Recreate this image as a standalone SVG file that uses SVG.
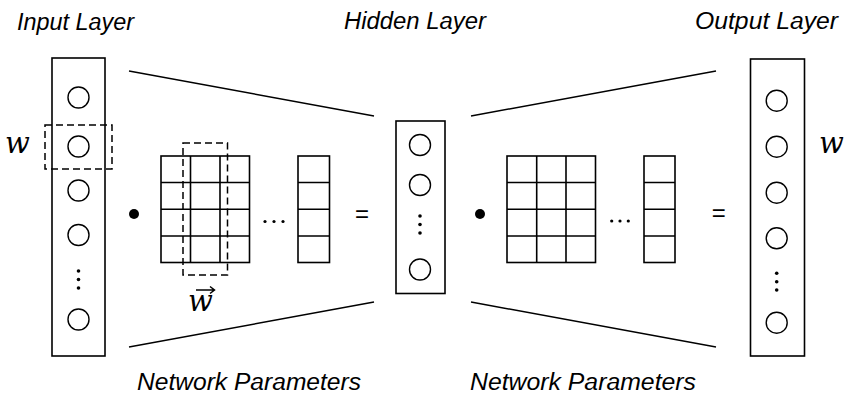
<svg xmlns="http://www.w3.org/2000/svg" width="858" height="404" viewBox="0 0 858 404">
<style>
.box{fill:#fff;stroke:#000;stroke-width:1.6}
.nd{fill:#fff;stroke:#000;stroke-width:1.4}
.cell{fill:none;stroke:#000;stroke-width:1.6}
.dash{fill:none;stroke:#000;stroke-width:1.5;stroke-dasharray:7 4}
.ln{stroke:#000;stroke-width:1.5;fill:none}
.lbl{font-family:"Liberation Sans",Arial,sans-serif;font-style:italic;font-size:23px;fill:#000}
.math{font-family:"DejaVu Serif","Liberation Serif",serif;font-style:italic;font-size:29px;fill:#000}
.eq{font-family:"Liberation Sans",Arial,sans-serif;font-size:24px;fill:#000}
</style>
<rect width="858" height="404" fill="#fff"/>
<g id="labels">
<text class="lbl" x="17" y="30" textLength="117" lengthAdjust="spacingAndGlyphs">Input Layer</text>
<text class="lbl" x="344" y="29" textLength="142" lengthAdjust="spacingAndGlyphs">Hidden Layer</text>
<text class="lbl" x="695" y="29" textLength="143" lengthAdjust="spacingAndGlyphs">Output Layer</text>
<text class="lbl" x="137" y="390" textLength="224" lengthAdjust="spacingAndGlyphs">Network Parameters</text>
<text class="lbl" x="470" y="390" textLength="226" lengthAdjust="spacingAndGlyphs">Network Parameters</text>
</g>
<g id="connectors">
<line class="ln" x1="129" y1="71" x2="374" y2="116"/>
<line class="ln" x1="129" y1="347" x2="374" y2="302"/>
<line class="ln" x1="471" y1="116" x2="716" y2="71"/>
<line class="ln" x1="471" y1="302" x2="716" y2="347"/>
</g>
<g id="input-layer">
<rect class="box" x="52" y="58" width="53" height="298"/>
<circle class="nd" cx="78.5" cy="97.5" r="10.5"/>
<circle class="nd" cx="78.5" cy="146.5" r="10.5"/>
<circle class="nd" cx="78.5" cy="190.5" r="10.5"/>
<circle class="nd" cx="78.5" cy="235" r="10.5"/>
<circle cx="78.5" cy="271" r="1.8"/>
<circle cx="78.5" cy="279.5" r="1.8"/>
<circle cx="78.5" cy="288" r="1.8"/>
<circle class="nd" cx="78.5" cy="319.5" r="10.5"/>
<rect class="dash" x="45" y="125" width="67" height="44"/>
<text class="math" x="5" y="153">w</text>
</g>
<g id="op-dot-1"><circle cx="134" cy="214" r="5"/></g>
<g id="matrix-1">
<rect class="cell" x="161" y="156" width="88.5" height="106.5"/>
<path class="cell" d="M190.5 156V262.5M220 156V262.5M161 182.5H249.5M161 209.3H249.5M161 236H249.5"/>
<rect class="dash" x="183" y="143" width="44.5" height="132"/>
<text class="math" x="188" y="311">w</text>
<path class="ln" d="M196 290H214M210 286.5L214.5 290L210 293.5" stroke-width="1.4"/>
</g>
<g id="ellipsis-1">
<circle cx="265" cy="221.5" r="1.6"/><circle cx="274" cy="221.5" r="1.6"/><circle cx="283" cy="221.5" r="1.6"/>
</g>
<g id="vector-1">
<rect class="cell" x="298" y="156" width="31.5" height="106.5"/>
<path class="cell" d="M298 182.5H329.5M298 209.3H329.5M298 236H329.5"/>
</g>
<g id="eq-1"><text class="eq" x="362" y="221.5" text-anchor="middle">=</text></g>
<g id="hidden-layer">
<rect class="box" x="396" y="121" width="49" height="172.5"/>
<circle class="nd" cx="420" cy="145" r="10.5"/>
<circle class="nd" cx="420" cy="185" r="10.5"/>
<circle cx="420" cy="216" r="1.8"/>
<circle cx="420" cy="224.5" r="1.8"/>
<circle cx="420" cy="233" r="1.8"/>
<circle class="nd" cx="420" cy="269.5" r="10.5"/>
</g>
<g id="op-dot-2"><circle cx="480" cy="214" r="5"/></g>
<g id="matrix-2">
<rect class="cell" x="507" y="156" width="88.5" height="106.5"/>
<path class="cell" d="M536.7 156V262.5M566 156V262.5M507 182.5H595.5M507 209.3H595.5M507 236H595.5"/>
</g>
<g id="ellipsis-2">
<circle cx="611.7" cy="221" r="1.6"/><circle cx="620" cy="221" r="1.6"/><circle cx="628.3" cy="221" r="1.6"/>
</g>
<g id="vector-2">
<rect class="cell" x="644" y="156" width="31" height="106.5"/>
<path class="cell" d="M644 182.5H675M644 209.3H675M644 236H675"/>
</g>
<g id="eq-2"><text class="eq" x="718.7" y="221" text-anchor="middle">=</text></g>
<g id="output-layer">
<rect class="box" x="750.5" y="59" width="54" height="297"/>
<circle class="nd" cx="776.7" cy="100.7" r="10.5"/>
<circle class="nd" cx="776.7" cy="146.7" r="10.5"/>
<circle class="nd" cx="776.7" cy="192.7" r="10.5"/>
<circle class="nd" cx="776.7" cy="238.3" r="10.5"/>
<circle cx="776.7" cy="273.3" r="1.8"/>
<circle cx="776.7" cy="281.7" r="1.8"/>
<circle cx="776.7" cy="290" r="1.8"/>
<circle class="nd" cx="776.7" cy="322.7" r="10.5"/>
<text class="math" x="819" y="153">w</text>
</g>
</svg>
